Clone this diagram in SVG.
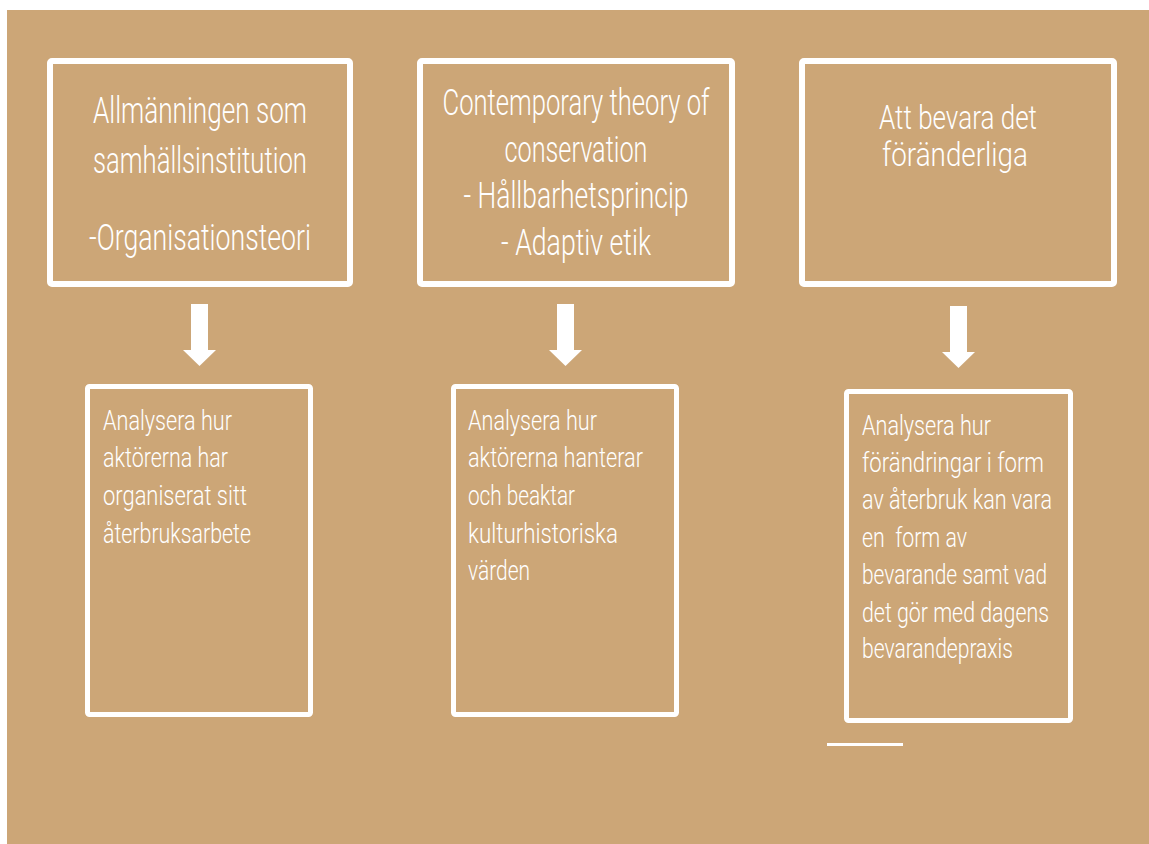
<svg xmlns="http://www.w3.org/2000/svg" width="1149" height="844" viewBox="0 0 1149 844">
<style>
.box{fill:none;stroke:#ffffff;stroke-width:6;}
.sbox{fill:none;stroke:#ffffff;stroke-width:5;}
.t{fill:#ffffff;font-family:Roboto,"Liberation Sans",sans-serif;font-weight:300;}
.h{font-size:37px;text-anchor:middle;}
.h3{font-size:34px;text-anchor:middle;}
.s{font-size:28.5px;}
.arrow{fill:#ffffff;}
</style>
<rect x="0" y="0" width="1149" height="844" fill="#ffffff"/>
<rect x="7" y="10" width="1142" height="834" fill="#cca677"/>
<g id="node-top1">
<rect class="box" x="50" y="61" width="300" height="223" rx="2"/>
<text class="t h" x="200" y="123" textLength="214" lengthAdjust="spacingAndGlyphs">Allmänningen som</text>
<text class="t h" x="200" y="173" textLength="214" lengthAdjust="spacingAndGlyphs">samhällsinstitution</text>
<text class="t h" x="200" y="250" textLength="222" lengthAdjust="spacingAndGlyphs">-Organisationsteori</text>
</g>
<g id="node-top2">
<rect class="box" x="420" y="61" width="312" height="223" rx="2"/>
<text class="t h" x="576" y="115" textLength="267" lengthAdjust="spacingAndGlyphs">Contemporary theory of</text>
<text class="t h" x="576" y="162" textLength="143" lengthAdjust="spacingAndGlyphs">conservation</text>
<text class="t h" x="576" y="208" textLength="225" lengthAdjust="spacingAndGlyphs">- Hållbarhetsprincip</text>
<text class="t h" x="576" y="255" textLength="150" lengthAdjust="spacingAndGlyphs">- Adaptiv etik</text>
</g>
<g id="node-top3">
<rect class="box" x="802" y="61" width="312" height="223" rx="2"/>
<text class="t h3" x="958" y="129" textLength="158" lengthAdjust="spacingAndGlyphs">Att bevara det</text>
<text class="t h3" x="955" y="166" textLength="146" lengthAdjust="spacingAndGlyphs">föränderliga</text>
</g>
<g id="connectors">
<polygon class="arrow" points="191,304 208,304 208,350 216,350 199.5,366 183,350 191,350"/>
<polygon class="arrow" points="557,304 574,304 574,350 582,350 565.5,366 549,350 557,350"/>
<polygon class="arrow" points="950,306 967,306 967,352 975,352 958.5,368 942,352 950,352"/>
</g>
<g id="node-bottom1">
<rect class="sbox" x="87.5" y="386.5" width="223" height="328" rx="2"/>
<text class="t s" x="103" y="430" textLength="129" lengthAdjust="spacingAndGlyphs">Analysera hur</text>
<text class="t s" x="103" y="467" textLength="125" lengthAdjust="spacingAndGlyphs">aktörerna har</text>
<text class="t s" x="103" y="505" textLength="144" lengthAdjust="spacingAndGlyphs">organiserat sitt</text>
<text class="t s" x="103" y="543" textLength="148" lengthAdjust="spacingAndGlyphs">återbruksarbete</text>
</g>
<g id="node-bottom2">
<rect class="sbox" x="453.5" y="386.5" width="223" height="328" rx="2"/>
<text class="t s" x="468" y="430" textLength="129" lengthAdjust="spacingAndGlyphs">Analysera hur</text>
<text class="t s" x="468" y="467" textLength="175" lengthAdjust="spacingAndGlyphs">aktörerna hanterar</text>
<text class="t s" x="468" y="505" textLength="107" lengthAdjust="spacingAndGlyphs">och beaktar</text>
<text class="t s" x="468" y="543" textLength="150" lengthAdjust="spacingAndGlyphs">kulturhistoriska</text>
<text class="t s" x="468" y="580" textLength="62" lengthAdjust="spacingAndGlyphs">värden</text>
</g>
<g id="node-bottom3">
<rect class="sbox" x="846.5" y="391.5" width="224" height="329" rx="2"/>
<text class="t s" x="862" y="435" textLength="129" lengthAdjust="spacingAndGlyphs">Analysera hur</text>
<text class="t s" x="862" y="472" textLength="182" lengthAdjust="spacingAndGlyphs">förändringar i form</text>
<text class="t s" x="862" y="509" textLength="190" lengthAdjust="spacingAndGlyphs">av återbruk kan vara</text>
<text class="t s" x="862" y="547" textLength="105" lengthAdjust="spacingAndGlyphs" xml:space="preserve">en  form av</text>
<text class="t s" x="862" y="584" textLength="185" lengthAdjust="spacingAndGlyphs">bevarande samt vad</text>
<text class="t s" x="862" y="622" textLength="187" lengthAdjust="spacingAndGlyphs">det gör med dagens</text>
<text class="t s" x="862" y="658" textLength="151" lengthAdjust="spacingAndGlyphs">bevarandepraxis</text>
</g>
<rect x="827" y="743" width="76" height="3" fill="#ffffff"/>
</svg>
